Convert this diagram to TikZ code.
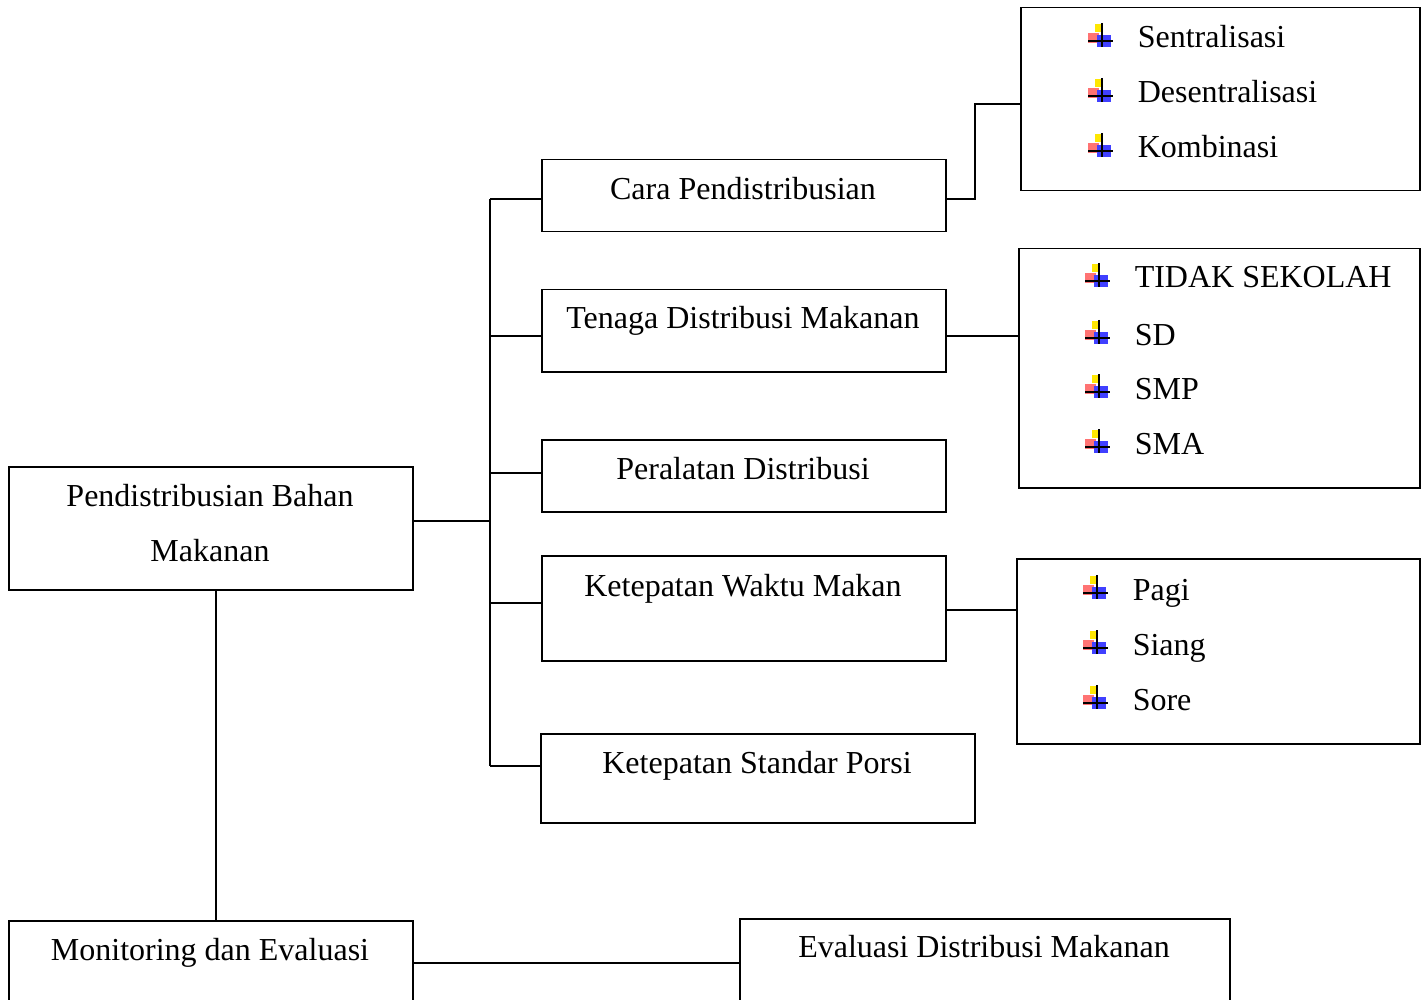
\documentclass[tikz,border=0pt]{standalone}
\usepackage{fontspec}
\setmainfont{Liberation Serif}
\begin{document}
\begin{tikzpicture}[x=1pt,y=-1pt,line width=1.5pt,
  box/.style={draw, rectangle, anchor=north west, inner sep=0pt},
  txt/.style={anchor=base, inner sep=0pt, font=\fontsize{32}{38}\selectfont},
  item/.style={anchor=base west, inner sep=0pt, font=\fontsize{32}{38}\selectfont},
  bul/.pic={
    \fill[yellow!90!orange] (-7,-17) rectangle (0,-9);
    \fill[red!55] (-14,-8) rectangle (-3,2);
    \fill[blue!75] (-5,-6) rectangle (9,6);
    \draw[line width=1.2pt] (0,-18) -- (0,6);
    \draw[line width=1.2pt] (-14,0) -- (11,0);
  }]
\useasboundingbox (0,0) rectangle (1427,1000);
\clip (0,0) rectangle (1427,1000);
% boxes
\node[box, minimum width=404pt, minimum height=123pt] (main) at (8,466){};
\node[txt] (mainA) at (210,506){Pendistribusian Bahan};
\node[txt] (mainB) at (210,561){Makanan};
\node[box, minimum width=404pt, minimum height=72pt] (cara) at (541,159){};
\node[txt] (caratxt) at (743,200){Cara Pendistribusian};
\node[box, minimum width=404pt, minimum height=82pt] (tenaga) at (541,289){};
\node[txt] (tenagatxt) at (743,329){Tenaga Distribusi Makanan};
\node[box, minimum width=404pt, minimum height=72pt] (alat) at (541,439){};
\node[txt] (alattxt) at (743,479){Peralatan Distribusi};
\node[box, minimum width=404pt, minimum height=105pt] (waktu) at (541,555){};
\node[txt] (waktutxt) at (743,596){Ketepatan Waktu Makan};
\node[box, minimum width=434pt, minimum height=89pt] (porsi) at (540,733){};
\node[txt] (porsitxt) at (757,773){Ketepatan Standar Porsi};
\node[box, minimum width=404pt, minimum height=100pt] (mon) at (8,920){};
\node[txt] (montxt) at (210,960){Monitoring dan Evaluasi};
\node[box, minimum width=490pt, minimum height=102pt] (eval) at (739,918){};
\node[txt] (evaltxt) at (984,957){Evaluasi Distribusi Makanan};
% lists
\node[box, minimum width=399pt, minimum height=183pt] (list1) at (1020,7){};
\pic at (1102,41) {bul};
\node[item] (l1a) at (1137,48){Sentralisasi};
\pic at (1102,96) {bul};
\node[item] (l1b) at (1137,103){Desentralisasi};
\pic at (1102,151) {bul};
\node[item] (l1c) at (1137,158){Kombinasi};
\node[box, minimum width=401pt, minimum height=239pt] (list2) at (1018,248){};
\pic at (1099,281) {bul};
\node[item] (l2a) at (1134,288){TIDAK SEKOLAH};
\pic at (1099,338) {bul};
\node[item] (l2b) at (1134,345){SD};
\pic at (1099,392) {bul};
\node[item] (l2c) at (1134,399){SMP};
\pic at (1099,447) {bul};
\node[item] (l2d) at (1134,454){SMA};
\node[box, minimum width=403pt, minimum height=185pt] (list3) at (1016,558){};
\pic at (1097,593) {bul};
\node[item] (l3a) at (1132,600){Pagi};
\pic at (1097,648) {bul};
\node[item] (l3b) at (1132,655){Siang};
\pic at (1097,703) {bul};
\node[item] (l3c) at (1132,710){Sore};
% connectors
\coordinate (t0) at (490,521);
\coordinate (t1) at (490,199);
\coordinate (t2) at (490,336);
\coordinate (t3) at (490,473);
\coordinate (t4) at (490,603);
\coordinate (t5) at (490,766);
\draw (t0 -| main.east) -- (t0);
\draw (t1) -- (t5);
\draw (t1) -- (t1 -| cara.west);
\draw (t2) -- (t2 -| tenaga.west);
\draw (t3) -- (t3 -| alat.west);
\draw (t4) -- (t4 -| waktu.west);
\draw (t5) -- (t5 -| porsi.west);
\coordinate (c1) at (975,199);
\coordinate (c2) at (975,104);
\draw (c1 -| cara.east) -- (c1) -- (c2) -- (c2 -| list1.west);
\draw (t2 -| tenaga.east) -- (t2 -| list2.west);
\coordinate (k3) at (980,610);
\draw (k3 -| waktu.east) -- (k3 -| list3.west);
\coordinate (v) at (216,0);
\draw (v |- main.south) -- (v |- mon.north);
\coordinate (h) at (0,963);
\draw (h -| mon.east) -- (h -| eval.west);
\end{tikzpicture}
\end{document}
